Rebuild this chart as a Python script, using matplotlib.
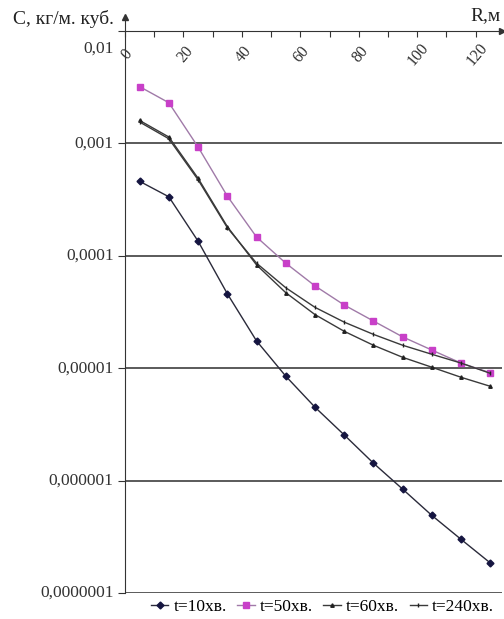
import numpy as np
import matplotlib.pyplot as plt

plt.rcParams['font.family'] = ['Liberation Serif', 'DejaVu Serif']

# distance from source, m
R = [5, 15, 25, 35, 45, 55, 65, 75, 85, 95, 105, 115, 125]

# concentration, kg/m^3, for each time moment
c_10 = [4.6e-4, 3.35e-4, 1.35e-4, 4.6e-5, 1.75e-5, 8.5e-6, 4.5e-6,
        2.55e-6, 1.43e-6, 8.4e-7, 4.9e-7, 3.0e-7, 1.85e-7]
c_50 = [3.2e-3, 2.3e-3, 9.3e-4, 3.4e-4, 1.47e-4, 8.6e-5, 5.4e-5,
        3.65e-5, 2.63e-5, 1.9e-5, 1.45e-5, 1.11e-5, 9.1e-6]
c_60 = [1.6e-3, 1.14e-3, 4.9e-4, 1.82e-4, 8.3e-5, 4.7e-5, 3.0e-5,
        2.13e-5, 1.6e-5, 1.25e-5, 1.02e-5, 8.3e-6, 6.9e-6]
c_240 = [1.55e-3, 1.1e-3, 4.75e-4, 1.78e-4, 8.6e-5, 5.2e-5, 3.48e-5,
         2.57e-5, 2.0e-5, 1.6e-5, 1.33e-5, 1.11e-5, 9.0e-6]

y_ticks = [1e-2, 1e-3, 1e-4, 1e-5, 1e-6, 1e-7]
y_labels = ['0,01', '0,001', '0,0001', '0,00001', '0,000001', '0,0000001']
x_ticks = list(range(0, 130, 10))
x_labels = ['0', '20', '40', '60', '80', '100', '120']

fs = 12.5
fig = plt.figure(figsize=(5.04, 6.19), dpi=100)
ax = fig.add_axes([125 / 504, 26 / 619, 377 / 504, 562 / 619])

ax.set_yscale('log')
ax.set_ylim(1e-7, 1e-2)
ax.set_xlim(0, 129)

# horizontal gridlines at each decade
for yv in y_ticks[1:]:
    ax.axhline(yv, color='#5a5a5a', lw=1.4, zorder=1)

ax.plot(R, c_10, color='#2a2a3a', lw=1.0, marker='D', ms=3.5,
        mfc='#151540', mec='#151540', label='t=10хв.', zorder=3)
ax.plot(R, c_50, color='#a07aa8', lw=1.0, marker='s', ms=5,
        mfc='#c840c8', mec='#c840c8', label='t=50хв.', zorder=3)
ax.plot(R, c_60, color='#3a3a3a', lw=1.0, marker='^', ms=2.5,
        mfc='#202020', mec='#202020', label='t=60хв.', zorder=3)
ax.plot(R, c_240, color='#3a3a3a', lw=1.0, marker='|', ms=3.5,
        mfc='#202020', mec='#202020', label='t=240хв.', zorder=3)

# axes: left and top spines with arrows
for side in ['right', 'bottom']:
    ax.spines[side].set_visible(False)
ax.spines['left'].set_color('#333333')
ax.spines['top'].set_color('#333333')
ax.plot([0, 0], [1, 1.025], transform=ax.transAxes, color='#333333',
        lw=0.8, clip_on=False)
ax.plot(0, 1.025, marker='^', ms=5, color='#333333',
        transform=ax.transAxes, clip_on=False)
ax.plot(1.0, 1.0, marker='>', ms=5, color='#333333',
        transform=ax.transAxes, clip_on=False)

ax.set_yticks(y_ticks)
ax.set_yticklabels(['' for _ in y_ticks])
ax.minorticks_off()
ax.tick_params(axis='y', direction='out', length=5, width=0.8, colors='#333333')
for yv, lab in zip(y_ticks, y_labels):
    yy = 7.0e-3 if yv == 1e-2 else yv
    ax.text(-0.03, yy, lab, transform=ax.get_yaxis_transform(),
            ha='right', va='center', fontsize=fs, color='#333333')

ax.xaxis.tick_top()
ax.set_xticks(x_ticks)
ax.set_xticklabels([])
ax.tick_params(axis='x', direction='in', length=4, width=0.8, colors='#333333')
for xv, lab in zip(x_ticks[::2], x_labels):
    ax.text(xv + 0.5, 0.958, lab, transform=ax.get_xaxis_transform(),
            rotation=50, ha='center', va='center', fontsize=fs - 1,
            color='#333333')

fig.text(13 / 504, 1 - 19 / 619, 'C, кг/м. куб.', fontsize=14,
         ha='left', va='center', color='#222222')
fig.text(501 / 504, 1 - 16 / 619, 'R,м', fontsize=14,
         ha='right', va='center', color='#222222')

fig.legend(loc='lower center', bbox_to_anchor=(0.64, -0.01), ncol=4,
           frameon=False, fontsize=fs, handlelength=1.0, handletextpad=0.3,
           columnspacing=0.6, borderaxespad=0.2)

fig.savefig('out.png', dpi=100)
